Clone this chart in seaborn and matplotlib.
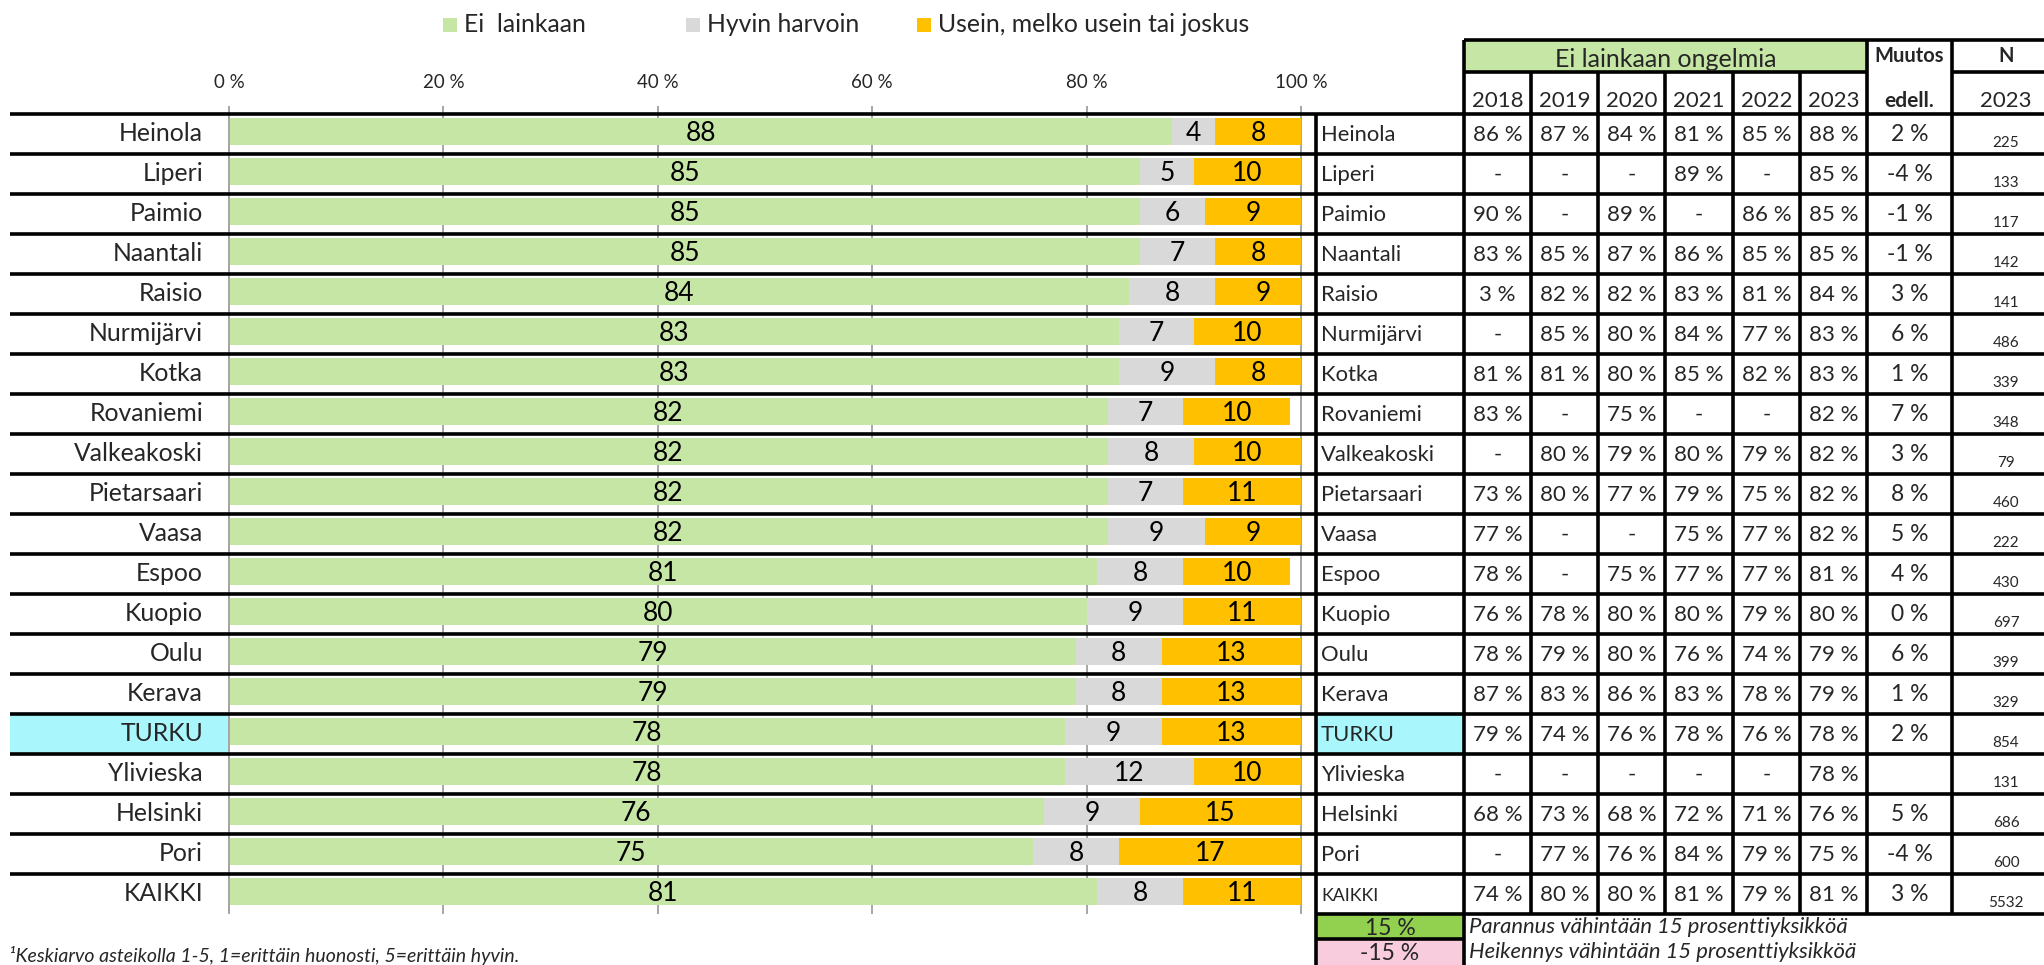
import matplotlib
matplotlib.use("Agg")
import matplotlib.pyplot as plt
from matplotlib.patches import Rectangle
import numpy as np
import pandas as pd
import seaborn as sns

# ---- data -------------------------------------------------------------
municipalities = ["Heinola", "Liperi", "Paimio", "Naantali", "Raisio", "Nurmijärvi",
                  "Kotka", "Rovaniemi", "Valkeakoski", "Pietarsaari", "Vaasa", "Espoo",
                  "Kuopio", "Oulu", "Kerava", "TURKU", "Ylivieska", "Helsinki", "Pori",
                  "KAIKKI"]
ei_lainkaan = [88, 85, 85, 85, 84, 83, 83, 82, 82, 82, 82, 81, 80, 79, 79, 78, 78, 76, 75, 81]
hyvin_harvoin = [4, 5, 6, 7, 8, 7, 9, 7, 8, 7, 9, 8, 9, 8, 8, 9, 12, 9, 8, 8]
usein = [8, 10, 9, 8, 9, 10, 8, 10, 10, 11, 9, 10, 11, 13, 13, 13, 10, 15, 17, 11]

legend_labels = ["Ei  lainkaan", "Hyvin harvoin", "Usein, melko usein tai joskus"]
x_ticks = [0, 20, 40, 60, 80, 100]

years = ["2018", "2019", "2020", "2021", "2022", "2023"]
share_2018 = [86, None, 90, 83, 3, None, 81, 83, None, 73, 77, 78, 76, 78, 87, 79, None, 68, None, 74]
share_2019 = [87, None, None, 85, 82, 85, 81, None, 80, 80, None, None, 78, 79, 83, 74, None, 73, 77, 80]
share_2020 = [84, None, 89, 87, 82, 80, 80, 75, 79, 77, None, 75, 80, 80, 86, 76, None, 68, 76, 80]
share_2021 = [81, 89, None, 86, 83, 84, 85, None, 80, 79, 75, 77, 80, 76, 83, 78, None, 72, 84, 81]
share_2022 = [85, None, 86, 85, 81, 77, 82, None, 79, 75, 77, 77, 79, 74, 78, 76, None, 71, 79, 79]
share_2023 = [88, 85, 85, 85, 84, 83, 83, 82, 82, 82, 82, 81, 80, 79, 79, 78, 78, 76, 75, 81]
change_prev = [2, -4, -1, -1, 3, 6, 1, 7, 3, 8, 5, 4, 0, 6, 1, 2, None, 5, -4, 3]
n_2023 = [225, 133, 117, 142, 141, 486, 339, 348, 79, 460, 222, 430, 697, 399, 329, 854,
          131, 686, 600, 5532]

table_title = "Ei lainkaan ongelmia"
key_labels = ["15 %", "-15 %"]
key_texts = ["Parannus vähintään 15 prosenttiyksikköä",
             "Heikennys vähintään 15 prosenttiyksikköä"]
footnote = "¹Keskiarvo asteikolla 1-5, 1=erittäin huonosti, 5=erittäin hyvin."
highlight = "TURKU"

# ---- style ------------------------------------------------------------
sns.set_style("white")
plt.rcParams["font.family"] = ["Lato", "DejaVu Sans"]

GREEN = "#C6E6A6"
GREY = "#D9D9D9"
ORANGE = "#FFC000"
CYAN = "#A9F7FD"
GRID = "#A6A6A6"
KEY_GREEN = "#92D050"
KEY_PINK = "#F8CCDD"
LINE_W = 2.6

W, H = 2044, 965
fig = plt.figure(figsize=(W / 100, H / 100), dpi=100)


def px_rect(x0, x1, y0, y1):
    return [x0 / W, 1 - y1 / H, (x1 - x0) / W, (y1 - y0) / H]


ROW_TOP, ROW_H = 114, 40
n_rows = len(municipalities)
hi = municipalities.index(highlight)

# highlighted label cell behind the category labels
fig.add_artist(Rectangle((10 / W, 1 - (ROW_TOP + (hi + 1) * ROW_H) / H), 219 / W, ROW_H / H,
                         transform=fig.transFigure, color=CYAN, lw=0, zorder=-1))

# ---- stacked bar chart --------------------------------------------------
ax = fig.add_axes(px_rect(229, 1301, ROW_TOP - 2.5, ROW_TOP - 2.5 + ROW_H * n_rows))
df = pd.DataFrame({"kunta": municipalities, "ei": ei_lainkaan,
                   "hyvin": hyvin_harvoin, "usein": usein})
df["ei_hyvin"] = df["ei"] + df["hyvin"]
df["total"] = df["ei_hyvin"] + df["usein"]

for col, colour in [("total", ORANGE), ("ei_hyvin", GREY), ("ei", GREEN)]:
    sns.barplot(data=df, x=col, y="kunta", orient="h", color=colour, saturation=1,
                width=0.68, errorbar=None, linewidth=0, ax=ax, zorder=2)

for i, row in df.iterrows():
    segs = [(0, row["ei"]), (row["ei"], row["hyvin"]), (row["ei_hyvin"], row["usein"])]
    for start, val in segs:
        ax.text(start + val / 2, i + 0.25, f"{val}", ha="center", va="baseline",
                fontsize=19, color="black", zorder=3)

ax.set_xlim(0, 100)
ax.set_ylim(n_rows - 0.5, -0.5)
ax.set_xlabel("")
ax.set_ylabel("")
ax.xaxis.tick_top()
ax.set_xticks(x_ticks)
ax.set_xticklabels([f"{t} %" for t in x_ticks])
ax.tick_params(axis="x", length=0, pad=15, labelsize=13.5)
ax.set_yticks(range(n_rows))
ax.set_yticklabels(municipalities)
ax.tick_params(axis="y", which="major", length=0, pad=18.7, labelsize=17.8)
ax.set_yticks(np.arange(-0.5, n_rows, 1), minor=True)
ax.tick_params(axis="y", which="minor", length=4.5, width=1.2, color=GRID)
for side in ["top", "right", "bottom"]:
    ax.spines[side].set_visible(False)
ax.spines["left"].set_color(GRID)
ax.spines["left"].set_linewidth(1.4)
ax.vlines(x_ticks, -2.5 / 800, 1 + 5.5 / 800, transform=ax.get_xaxis_transform(),
          colors=GRID, lw=1.4, zorder=0.5, clip_on=False)
ax.patch.set_alpha(0)

# ---- overlay in pixel coordinates: rules, table, legends ----------------
ov = fig.add_axes([0, 0, 1, 1])
ov.set_xlim(0, W)
ov.set_ylim(H, 0)
ov.axis("off")
ov.patch.set_alpha(0)

# legend above the bars
leg_x = [443, 686, 917]
for x0, colour, label in zip(leg_x, [GREEN, GREY, ORANGE], legend_labels):
    ov.add_patch(Rectangle((x0, 18), 14, 14, color=colour, lw=0))
    ov.text(x0 + 21, 32, label, ha="left", va="baseline", fontsize=17.8)

TAB_L = 1316
col_edges = [1464, 1531, 1598, 1665, 1733, 1800, 1867]
MUUTOS_R = 1952
N_CX = 2006
y_hi = ROW_TOP + hi * ROW_H
ov.add_patch(Rectangle((TAB_L, y_hi), col_edges[0] - TAB_L, ROW_H, color=CYAN, lw=0))

# table header
ov.add_patch(Rectangle((col_edges[0], 40), col_edges[-1] - col_edges[0], 32, color=GREEN, lw=0))
ov.text((col_edges[0] + col_edges[-1]) / 2, 67, table_title, ha="center", va="baseline",
        fontsize=18)
for j, yr in enumerate(years):
    ov.text((col_edges[j] + col_edges[j + 1]) / 2, 107, yr, ha="center", va="baseline",
            fontsize=16)
muutos_cx = (col_edges[-1] + MUUTOS_R) / 2
ov.text(muutos_cx, 62, "Muutos", ha="center", va="baseline", fontsize=14.5, fontweight="bold")
ov.text(muutos_cx, 107, "edell.", ha="center", va="baseline", fontsize=15, fontweight="bold")
ov.text(N_CX, 62, "N", ha="center", va="baseline", fontsize=14.5, fontweight="bold")
ov.text(N_CX, 107, "2023", ha="center", va="baseline", fontsize=16)

ov.hlines(40, col_edges[0], W, colors="black", lw=LINE_W)
ov.hlines(72, col_edges[0], col_edges[-1], colors="black", lw=LINE_W)
ov.hlines(72, MUUTOS_R, W, colors="black", lw=LINE_W)
ov.vlines(col_edges[1:-1], 72, ROW_TOP, colors="black", lw=LINE_W)
ov.vlines([col_edges[0], col_edges[-1], MUUTOS_R], 40, ROW_TOP, colors="black", lw=LINE_W)

# table body
shares = [share_2018, share_2019, share_2020, share_2021, share_2022, share_2023]
for i, name in enumerate(municipalities):
    base = ROW_TOP + i * ROW_H + 27
    ov.text(TAB_L + 5, base, name, ha="left", va="baseline",
            fontsize=12.8 if name == "KAIKKI" else 15.8)
    for j, col in enumerate(shares):
        v = col[i]
        ov.text((col_edges[j] + col_edges[j + 1]) / 2, base,
                "-" if v is None else f"{v} %", ha="center", va="baseline", fontsize=16)
    if change_prev[i] is not None:
        ov.text(muutos_cx, base, f"{change_prev[i]} %", ha="center", va="baseline",
                fontsize=16.5)
    ov.text(N_CX, base + 6, f"{n_2023[i]}", ha="center", va="baseline", fontsize=11)

row_lines = [ROW_TOP + k * ROW_H for k in range(n_rows)]
ov.hlines(row_lines, 10, W, colors="black", lw=LINE_W)
ov.hlines(ROW_TOP + n_rows * ROW_H, TAB_L, W, colors="black", lw=LINE_W)
ov.vlines([TAB_L] + col_edges + [MUUTOS_R], ROW_TOP, ROW_TOP + n_rows * ROW_H,
          colors="black", lw=LINE_W)

# colour key under the table
key_top = ROW_TOP + n_rows * ROW_H
for k, (colour, lab, txt) in enumerate(zip([KEY_GREEN, KEY_PINK], key_labels, key_texts)):
    y0 = key_top + k * 25
    ov.add_patch(Rectangle((TAB_L, y0), col_edges[0] - TAB_L, 25 + k, color=colour, lw=0))
    ov.text((TAB_L + col_edges[0]) / 2, y0 + 21, lab, ha="center", va="baseline",
            fontsize=16.5)
    ov.text(col_edges[0] + 5, y0 + 19, txt, ha="left", va="baseline", fontsize=15.8,
            style="italic")
ov.vlines([TAB_L, col_edges[0]], key_top, H, colors="black", lw=LINE_W)
ov.hlines(key_top + 25, TAB_L, col_edges[0], colors="black", lw=LINE_W)

# footnote
ov.text(9, 962, footnote, ha="left", va="baseline", fontsize=14, style="italic")

fig.savefig("out.png", dpi=100)
